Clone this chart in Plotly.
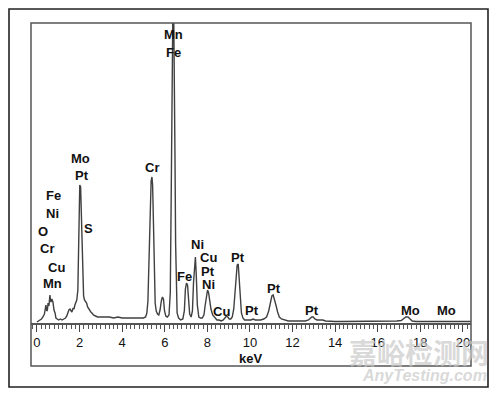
import plotly.graph_objects as go

# EDS spectrum (energy in keV, intensity in arbitrary counts)
energy = [0.0, 0.07, 0.14, 0.21, 0.28, 0.35, 0.42, 0.46, 0.49, 0.52, 0.56, 0.61, 0.64, 0.66, 0.70, 0.75, 0.80, 0.85, 0.89, 0.95,
          1.02, 1.10, 1.18, 1.26, 1.34, 1.40, 1.46, 1.50, 1.55, 1.60, 1.64, 1.70, 1.74, 1.78, 1.83, 1.87, 1.92,
          1.95, 1.98, 2.01, 2.05, 2.08, 2.10, 2.13, 2.16, 2.19, 2.23, 2.28, 2.33, 2.38, 2.43, 2.48, 2.53, 2.58, 2.65,
          2.75, 2.85, 3.0, 3.2, 3.4, 3.6, 3.8, 4.0, 4.2, 4.4, 4.6, 4.8, 5.0, 5.1,
          5.16, 5.21, 5.26, 5.31, 5.36, 5.40, 5.43, 5.47, 5.51, 5.55, 5.60, 5.66, 5.72, 5.78, 5.84, 5.89, 5.94, 5.99, 6.05, 6.12,
          6.2, 6.26, 6.30, 6.34, 6.38, 6.42, 6.45, 6.48, 6.51, 6.54, 6.58, 6.65,
          6.75, 6.85, 6.92, 6.97, 7.02, 7.07, 7.12, 7.17, 7.24, 7.30, 7.35, 7.40, 7.44, 7.48, 7.53, 7.60, 7.68, 7.76,
          7.84, 7.90, 7.96, 8.01, 8.06, 8.11, 8.17, 8.25, 8.35, 8.45, 8.55, 8.65, 8.75, 8.83, 8.90, 8.96, 9.03, 9.10,
          9.17, 9.24, 9.30, 9.35, 9.40, 9.45, 9.50, 9.55, 9.60, 9.67, 9.75, 9.85, 9.95, 10.05, 10.15, 10.25, 10.35,
          10.5, 10.65, 10.78, 10.88, 10.96, 11.03, 11.09, 11.15, 11.22, 11.30, 11.38, 11.48, 11.6, 11.8, 12.0,
          12.2, 12.4, 12.6, 12.75, 12.83, 12.90, 12.97, 13.05, 13.15, 13.3, 13.42, 13.55, 13.8, 14.0, 14.3, 14.6,
          15.0, 15.4, 15.8, 16.2, 16.6, 16.9, 17.1, 17.22, 17.32, 17.42, 17.52, 17.62, 17.8, 18.1, 18.5, 18.9,
          19.3, 19.6, 19.9, 20.2, 20.38]
counts = [1, 2, 3, 4, 6, 9, 18, 12, 13, 20, 17, 28, 22, 21, 24, 21, 13, 10, 5, 4,
          3, 4, 3, 4, 5, 7, 11, 13, 14, 12, 11, 15, 14, 18, 20, 23, 33,
          80, 128, 138, 136, 110, 96, 60, 40, 27, 23, 21, 20, 16, 14, 12, 11, 10, 8,
          7, 6, 6, 6, 6, 5, 6, 5, 5, 5, 5, 5, 5, 6,
          10, 22, 60, 120, 142, 146, 138, 100, 45, 20, 12, 9, 8, 13, 22, 26, 24, 12, 7, 6,
          8, 30, 120, 250, 312, 312, 185, 168, 80, 25, 10, 5,
          3, 4, 12, 34, 40, 38, 24, 9, 6, 12, 40, 62, 66, 48, 18, 6, 5, 5,
          8, 18, 30, 33, 30, 22, 14, 8, 5, 3, 3, 2, 3, 5, 7, 6, 4, 4,
          6, 14, 34, 50, 58, 59, 45, 22, 10, 5, 3, 3, 3, 3, 4, 3, 3,
          3, 4, 6, 12, 20, 27, 28, 24, 18, 11, 6, 4, 3, 2, 2,
          2, 2, 2, 3, 5, 6, 6, 4, 3, 3, 3, 2, 1.5, 1.5, 1.5, 1.5,
          1.5, 1.5, 1.5, 1.5, 1.5, 2, 2.5, 4, 6, 6, 4, 2, 1.5, 1.5, 1.5, 1.5,
          1.5, 2, 1.5, 1.5, 1.5]

tick_vals = [0, 2, 4, 6, 8, 10, 12, 14, 16, 18, 20]
tick_text = [str(v) for v in tick_vals]

# element labels
label_text = ["Mn", "Fe", "Mo", "Pt", "Fe", "Ni", "O", "Cr", "Cu", "Mn", "S", "Cr",
              "Fe", "Ni", "Cu", "Pt", "Ni", "Cu", "Pt", "Pt", "Pt", "Pt", "Mo", "Mo"]
label_px = [173, 173, 80, 82, 53, 52, 43, 47, 56, 52, 88, 152,
            184, 197, 208, 208, 208, 221, 238, 252, 274, 312, 410, 446]
label_py = [34, 52, 158, 175, 195, 213, 231, 248, 267, 283, 228, 167,
            276, 244, 257, 271, 284, 311, 257, 310, 288, 310, 310, 310]

# plot geometry in pixels
L, R, T, B = 31, 471, 23, 323
X0, X1 = -0.28, 20.38
YMAX = 300

def px_to_keV(px):
    return X0 + (px - L) / (R - L) * (X1 - X0)

def py_to_cnt(py):
    return (B - py) / (B - T) * YMAX

fig = go.Figure()
fig.add_trace(go.Scatter(x=energy, y=counts, mode="lines",
                         line=dict(color="#404040", width=1.4), hoverinfo="skip"))

bold = dict(family="Liberation Sans, Arial, sans-serif", size=13, color="#111")
annotations = []
for t, px, py in zip(label_text, label_px, label_py):
    annotations.append(dict(x=px_to_keV(px), y=py_to_cnt(py), text="<b>%s</b>" % t,
                            showarrow=False, font=bold, xanchor="center", yanchor="middle"))
annotations.append(dict(xref="paper", yref="paper", x=(250 - L) / (R - L), y=(B - 358) / (B - T),
                        text="<b>keV</b>", showarrow=False, font=bold,
                        xanchor="center", yanchor="middle"))
# watermark
annotations.append(dict(xref="paper", yref="paper", x=(419 - L) / (R - L), y=(B - 352) / (B - T),
                        text="<b>嘉峪检测网</b>", showarrow=False,
                        font=dict(family="Noto Sans CJK SC", size=28, color="rgba(200,200,200,0.7)"),
                        xanchor="center", yanchor="middle"))
annotations.append(dict(xref="paper", yref="paper", x=(424 - L) / (R - L), y=(B - 375) / (B - T),
                        text="<b><i>AnyTesting.com</i></b>", showarrow=False,
                        font=dict(family="Liberation Sans, Arial", size=16, color="rgba(200,200,200,0.7)"),
                        xanchor="center", yanchor="middle"))

W = R - L
Hh = B - T
shapes = [
    dict(type="rect", xref="paper", yref="paper",
         x0=(9 - L) / W, x1=(488 - L) / W, y0=(B - 387) / Hh, y1=(B - 9) / Hh,
         line=dict(color="#222", width=1.6)),
    dict(type="rect", xref="paper", yref="paper",
         x0=0, x1=1, y0=(B - 366) / Hh, y1=1,
         line=dict(color="#555", width=1.5)),
]

fig.update_layout(
    width=500, height=394,
    margin=dict(l=L, r=500 - R, t=T, b=394 - B),
    paper_bgcolor="white", plot_bgcolor="white",
    showlegend=False,
    annotations=annotations, shapes=shapes,
    xaxis=dict(range=[X0, X1], showgrid=False, zeroline=False,
               showline=True, linecolor="#555", linewidth=1.5,
               tickmode="array", tickvals=tick_vals, ticktext=tick_text,
               ticks="outside", ticklen=7, tickwidth=1.2, tickcolor="#444",
               tickfont=dict(family="Liberation Sans, Arial, sans-serif", size=13, color="#111"),
               minor=dict(dtick=0.2, tick0=0, ticks="outside", ticklen=4, tickwidth=0.8, tickcolor="#555", showgrid=False)),
    yaxis=dict(range=[0, YMAX], showgrid=False, zeroline=False, showline=False,
               showticklabels=False, ticks=""),
)
fig.update_xaxes(tickprefix="<b>", ticksuffix="</b>")

fig.write_html("out.html", config={"displayModeBar": False},
               post_script="document.body.style.margin='0';document.body.style.overflow='hidden';")
